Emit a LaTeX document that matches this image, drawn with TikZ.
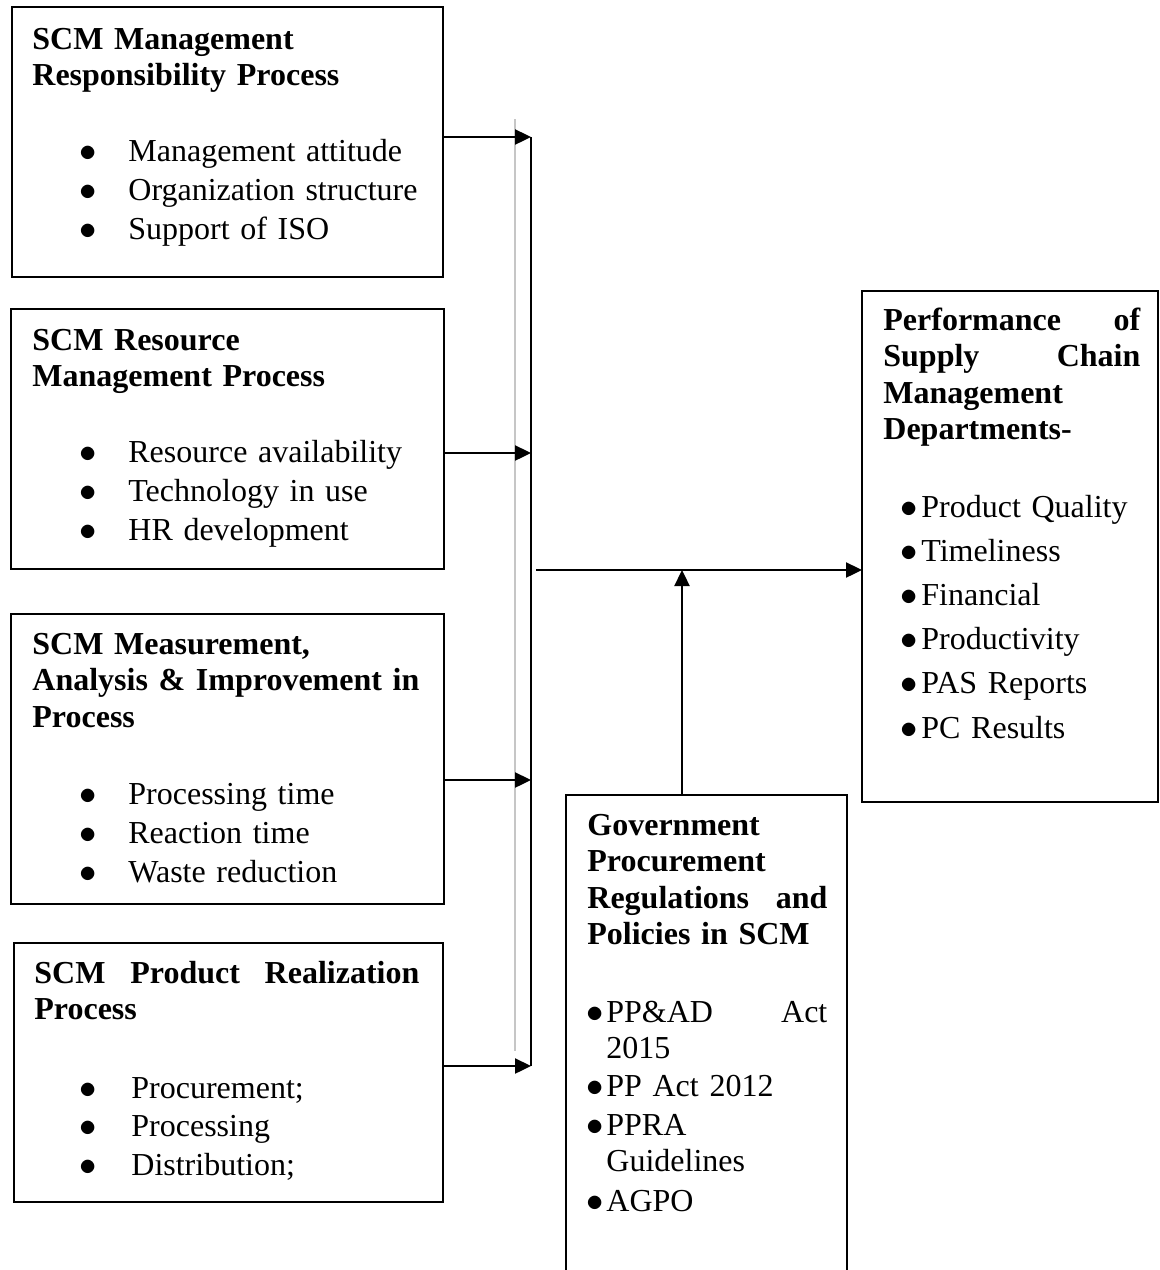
\documentclass[tikz,border=0pt]{standalone}
\usepackage{fontspec}
\setmainfont{Liberation Serif}
\usetikzlibrary{arrows.meta}
\newcommand{\bul}[1]{\makebox[#1][l]{$\bullet$}}
\tikzset{
  box/.style={draw=black, line width=1pt, inner sep=0pt, outer sep=0pt, anchor=north west},
  head/.style={inner sep=0pt, anchor=base west, align=left, font={\fontsize{16}{18.25}\selectfont\bfseries}},
  list/.style={inner sep=0pt, anchor=base west, align=left, font={\fontsize{16}{19.5}\selectfont}},
  arr/.style={draw=black, line width=1.2pt, -{Triangle[length=8pt,width=7.5pt]}}
}
\begin{document}
  \begin{tikzpicture}[x=0.5pt, y=-0.5pt]
    \useasboundingbox (0,0) rectangle (1160,1270);
    \node[box, minimum width=215.5pt, minimum height=135pt] (mgmt) at (12,7) {};
    \node[box, minimum width=216.5pt, minimum height=130pt] (res) at (11,309) {};
    \node[box, minimum width=216.5pt, minimum height=145pt] (meas) at (11,614) {};
    \node[box, minimum width=214.5pt, minimum height=129.5pt] (prod) at (14,943) {};
    \node[box, minimum width=140.5pt, minimum height=245pt] (gov) at (566,795) {};
    \node[box, minimum width=148pt, minimum height=255.5pt] (perf) at (862,291) {};
    \node[head, text width=200pt] (mgmthead) at (32,49) {SCM Management\\Responsibility Process};
    \node[list, text width=200pt] (mgmtlist) at (79,161) {\bul{24.5pt}Management attitude\\\bul{24.5pt}Organization structure\\\bul{24.5pt}Support of ISO};
    \node[head, text width=200pt] (reshead) at (32,350) {SCM Resource\\Management Process};
    \node[list, text width=200pt] (reslist) at (79,462) {\bul{24.5pt}Resource availability\\\bul{24.5pt}Technology in use\\\bul{24.5pt}HR development};
    \node[head, text width=200pt] (meashead) at (32,654) {SCM Measurement,\\Analysis \& Improvement in\\Process};
    \node[list, text width=200pt] (measlist) at (79,804) {\bul{24.5pt}Processing time\\\bul{24.5pt}Reaction time\\\bul{24.5pt}Waste reduction};
    \node[head, text width=192.5pt] (prodhead) at (34,983) {SCM\hfill Product\hfill Realization\\Process};
    \node[list, text width=180pt, font={\fontsize{16}{19.25}\selectfont}] (prodlist) at (79,1098) {\bul{26pt}Procurement;\\\bul{26pt}Processing\\\bul{26pt}Distribution;};
    \node[head, text width=120pt] (govhead) at (587,835) {Government\\Procurement\\Regulations\hfill and\\Policies in SCM};
    \node[list, text width=120.5pt, font={\fontsize{16}{18}\selectfont}] (govlist) at (586,1022) {\bul{10pt}PP\&AD\hfill Act\\\hspace*{10pt}2015\\[1pt]\bul{10pt}PP Act 2012\\[1.5pt]\bul{10pt}PPRA\\\hspace*{10pt}Guidelines\\[2pt]\bul{10pt}AGPO};
    \node[head, text width=128.5pt] (perfhead) at (883,330) {Performance\hfill of\\Supply\hfill Chain\\Management\\Departments-};
    \node[list, text width=130pt, font={\fontsize{16}{22.1}\selectfont}] (perflist) at (900,517) {\bul{10.5pt}Product Quality\\\bul{10.5pt}Timeliness\\\bul{10.5pt}Financial\\\bul{10.5pt}Productivity\\\bul{10.5pt}PAS Reports\\\bul{10.5pt}PC Results};
    \coordinate (b1) at (531,137);
    \coordinate (b2) at (531,453);
    \coordinate (b3) at (531,780);
    \coordinate (b4) at (531,1066);
    \coordinate (g1) at (515,119);
    \coordinate (g2) at (515,1051);
    \coordinate (m) at (536,570);
    \coordinate (j) at (682,570);
    \draw[draw=gray!45, line width=0.6pt] (g1) -- (g2);
    \draw[draw=black, line width=1.2pt] (b1) -- (b4);
    \draw[arr] (mgmt.east |- b1) -- (b1);
    \draw[arr] (res.east |- b2) -- (b2);
    \draw[arr] (meas.east |- b3) -- (b3);
    \draw[arr] (prod.east |- b4) -- (b4);
    \draw[arr] (m) -- (m -| perf.west);
    \draw[arr] (gov.north -| j) -- (j);
  \end{tikzpicture}
\end{document}
